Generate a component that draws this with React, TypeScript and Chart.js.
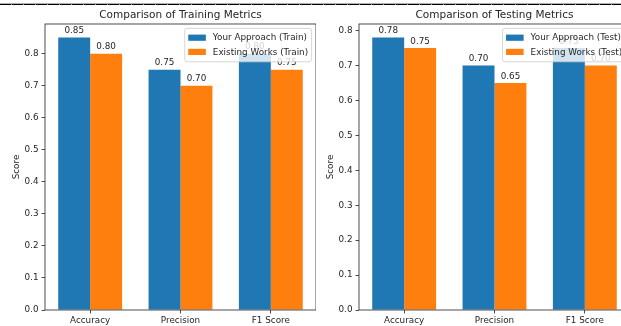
import React, { useEffect, useRef } from "react";
import { Chart, registerables } from "chart.js";

Chart.register(...registerables);

const categories = ["Accuracy", "Precision", "F1 Score"];
const trainYours = [0.85, 0.75, 0.8];
const trainExisting = [0.8, 0.7, 0.75];
const testYours = [0.78, 0.7, 0.75];
const testExisting = [0.75, 0.65, 0.7];
const yTicks = [0, 0.1, 0.2, 0.3, 0.4, 0.5, 0.6, 0.7, 0.8];

const BLUE = "#1f77b4";
const ORANGE = "#ff7f0e";
const FONT = "DejaVu Sans";
const TXT = "#262626";

const overlayPlugin = {
  id: "mplOverlay",
  afterDatasetsDraw(chart: any) {
    const ctx = chart.ctx as CanvasRenderingContext2D;
    const a = chart.chartArea;
    ctx.save();
    // title centered over the plot area
    ctx.font = `10.5px "${FONT}"`;
    ctx.fillStyle = TXT;
    ctx.textAlign = "center";
    ctx.textBaseline = "alphabetic";
    ctx.fillText(chart.options.plugins.title.text, (a.left + a.right) / 2, a.top - 5.6);
    // value labels
    ctx.font = `8.8px "${FONT}"`;
    ctx.fillStyle = TXT;
    ctx.textAlign = "center";
    ctx.textBaseline = "bottom";
    chart.data.datasets.forEach((ds: any, di: number) => {
      const meta = chart.getDatasetMeta(di);
      meta.data.forEach((el: any, i: number) => {
        ctx.fillText(Number(ds.data[i]).toFixed(2), el.x, el.y - 2.2);
      });
    });
    // frame (spines)
    ctx.strokeStyle = "#222";
    ctx.lineWidth = 0.8;
    ctx.strokeRect(a.left, a.top, a.right - a.left, a.bottom - a.top);
    // legend
    const fs = 8.8;
    ctx.font = `${fs}px "${FONT}"`;
    const labels = chart.data.datasets.map((d: any) => d.label);
    const tw = Math.max(...labels.map((l: string) => ctx.measureText(l).width));
    const pad = 3.5, handle = 17.6, tpad = 7, rowH = 14.2;
    const w = pad + handle + tpad + tw + pad;
    const h = pad * 2 + rowH * labels.length - 2;
    const x = a.right - 4.4 - w;
    const y = a.top + 4.4;
    ctx.beginPath();
    (ctx as any).roundRect(x, y, w, h, 2.5);
    ctx.fillStyle = "rgba(255,255,255,0.8)";
    ctx.fill();
    ctx.strokeStyle = "#cccccc";
    ctx.lineWidth = 0.8;
    ctx.stroke();
    ctx.textAlign = "left";
    ctx.textBaseline = "middle";
    labels.forEach((l: string, i: number) => {
      const cy = y + pad + 5.8 + i * rowH;
      ctx.fillStyle = chart.data.datasets[i].backgroundColor;
      ctx.fillRect(x + pad, cy - 3.1, handle, 6.2);
      ctx.fillStyle = TXT;
      ctx.fillText(l, x + pad + handle + tpad, cy + 0.5);
    });
    ctx.restore();
  },
};

function makeConfig(title: string, a: number[], b: number[], la: string, lb: string, ymax: number): any {
  return {
    type: "bar",
    data: {
      labels: categories,
      datasets: [
        { label: la, data: a, backgroundColor: BLUE, borderWidth: 0, categoryPercentage: 0.707, barPercentage: 1 },
        { label: lb, data: b, backgroundColor: ORANGE, borderWidth: 0, categoryPercentage: 0.707, barPercentage: 1 },
      ],
    },
    plugins: [overlayPlugin],
    options: {
      responsive: false,
      animation: false,
      layout: { padding: { left: 0, right: 0, top: 0, bottom: 0 } },
      plugins: {
        legend: { display: false },
        tooltip: { enabled: false },
        title: {
          display: true,
          text: title,
          color: "rgba(0,0,0,0)",
          font: { family: FONT, size: 10.5, weight: "normal", lineHeight: 1.2 },
          padding: { top: 8.7, bottom: 2.7 },
        },
      },
      scales: {
        x: {
          type: "category",
          offset: true,
          grid: { display: true, offset: false, drawOnChartArea: false, drawTicks: true, tickLength: 3.5, color: "#222", lineWidth: 0.8 },
          border: { display: false },
          ticks: { color: TXT, font: { family: FONT, size: 8.8 }, padding: 2, maxRotation: 0 },
          afterFit: (s: any) => { s.height = 16; },
        },
        y: {
          min: 0,
          max: ymax,
          grid: { display: true, drawOnChartArea: false, drawTicks: true, tickLength: 3.5, color: "#222", lineWidth: 0.8 },
          border: { display: false },
          afterBuildTicks: (s: any) => { s.ticks = yTicks.map((v) => ({ value: v })); },
          ticks: {
            color: TXT,
            font: { family: FONT, size: 8.8 },
            padding: 3,
            callback: (v: any) => Number(v).toFixed(1),
          },
          title: {
            display: true,
            text: "Score",
            color: TXT,
            font: { family: FONT, size: 8.8, lineHeight: 1.2 },
            padding: { top: 11, bottom: 0 },
          },
          afterFit: (s: any) => { s.width = 45; },
        },
      },
    },
  };
}

function ChartBox(props: { cfg: any; left: number; width: number }) {
  const ref = useRef<HTMLCanvasElement | null>(null);
  useEffect(() => {
    const c = new Chart(ref.current as HTMLCanvasElement, props.cfg);
    return () => c.destroy();
  }, []);
  return (
    <canvas
      ref={ref}
      width={props.width}
      height={326}
      style={{ position: "absolute", left: props.left, top: 0, width: props.width, height: 326 }}
    />
  );
}

export default function App() {
  const leftCfg = makeConfig("Comparison of Training Metrics", trainYours, trainExisting, "Your Approach (Train)", "Existing Works (Train)", 0.85 * 1.05);
  const rightCfg = makeConfig("Comparison of Testing Metrics", testYours, testExisting, "Your Approach (Test)", "Existing Works (Test)", 0.78 * 1.05);
  return (
    <div style={{ position: "fixed", left: 0, top: 0, width: 621, height: 326, overflow: "hidden", background: "#fff" }}>
      <ChartBox cfg={leftCfg} left={0} width={316} />
      <ChartBox cfg={rightCfg} left={313.7} width={316} />
      <div style={{ position: "absolute", left: 0, top: 3, width: 621, height: 1, background: "#b0b0b0" }} />
      <div
        style={{
          position: "absolute",
          left: 0,
          top: 4,
          width: 621,
          height: 1,
          background: "repeating-linear-gradient(to right, #000 0px, #000 11px, #999 11px, #999 12px)",
        }}
      />
    </div>
  );
}
